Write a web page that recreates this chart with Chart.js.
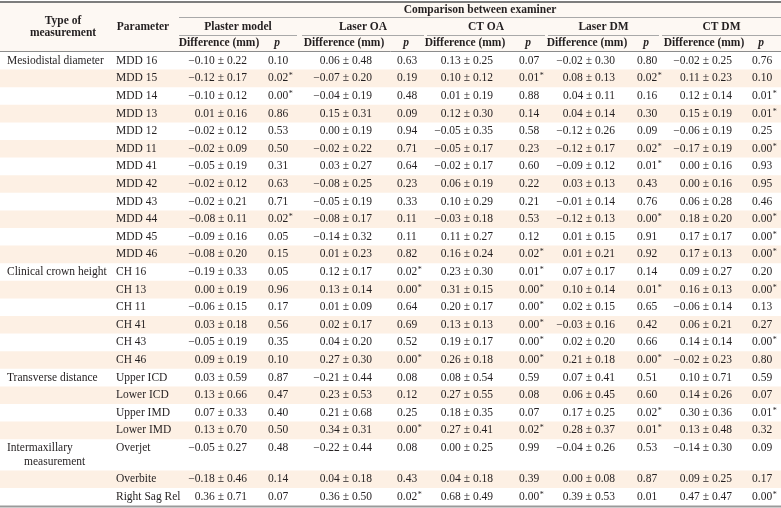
<!DOCTYPE html>
<html>
<head>
<meta charset="utf-8">
<script src="https://cdn.jsdelivr.net/npm/chart.js@4.4.0/dist/chart.umd.min.js"></script>
<style>
  html, body { margin: 0; padding: 0; background: #fff; }
</style>
</head>
<body>
<canvas id="table" width="781" height="508"></canvas>
<script>
const groups = ['Plaster model', 'Laser OA', 'CT OA', 'Laser DM', 'CT DM'];

const measurementTypes = [
  'Mesiodistal diameter', '', '', '', '', '', '', '', '', '', '', '',
  'Clinical crown height', '', '', '', '', '',
  'Transverse distance', '', '', '',
  'Intermaxillary\nmeasurement', '', ''
];

const parameters = [
  'MDD 16', 'MDD 15', 'MDD 14', 'MDD 13', 'MDD 12', 'MDD 11', 'MDD 41', 'MDD 42',
  'MDD 43', 'MDD 44', 'MDD 45', 'MDD 46', 'CH 16', 'CH 13', 'CH 11', 'CH 41',
  'CH 43', 'CH 46', 'Upper ICD', 'Lower ICD', 'Upper IMD', 'Lower IMD',
  'Overjet', 'Overbite', 'Right Sag Rel'
];

const plasterMean = [-0.10, -0.12, -0.10, 0.01, -0.02, -0.02, -0.05, -0.02, -0.02, -0.08, -0.09, -0.08, -0.19, 0.00, -0.06, 0.03, -0.05, 0.09, 0.03, 0.13, 0.07, 0.13, -0.05, -0.18, 0.36];
const plasterSD   = [0.22, 0.17, 0.12, 0.16, 0.12, 0.09, 0.19, 0.12, 0.21, 0.11, 0.16, 0.20, 0.33, 0.19, 0.15, 0.18, 0.19, 0.19, 0.59, 0.66, 0.33, 0.70, 0.27, 0.46, 0.71];
const plasterP    = ['0.10', '0.02*', '0.00*', '0.86', '0.53', '0.50', '0.31', '0.63', '0.71', '0.02*', '0.05', '0.15', '0.05', '0.96', '0.17', '0.56', '0.35', '0.10', '0.87', '0.47', '0.40', '0.50', '0.48', '0.14', '0.07'];

const laserOAMean = [0.06, -0.07, -0.04, 0.15, 0.00, -0.02, 0.03, -0.08, -0.05, -0.08, -0.14, 0.01, 0.12, 0.13, 0.01, 0.02, 0.04, 0.27, -0.21, 0.23, 0.21, 0.34, -0.22, 0.04, 0.36];
const laserOASD   = [0.48, 0.20, 0.19, 0.31, 0.19, 0.22, 0.27, 0.25, 0.19, 0.17, 0.32, 0.23, 0.17, 0.14, 0.09, 0.17, 0.20, 0.30, 0.44, 0.53, 0.68, 0.31, 0.44, 0.18, 0.50];
const laserOAP    = ['0.63', '0.19', '0.48', '0.09', '0.94', '0.71', '0.64', '0.23', '0.33', '0.11', '0.11', '0.82', '0.02*', '0.00*', '0.64', '0.69', '0.52', '0.00*', '0.08', '0.12', '0.25', '0.00*', '0.08', '0.43', '0.02*'];

const ctOAMean = [0.13, 0.10, 0.01, 0.12, -0.05, -0.05, -0.02, 0.06, 0.10, -0.03, 0.11, 0.16, 0.23, 0.31, 0.20, 0.13, 0.19, 0.26, 0.08, 0.27, 0.18, 0.27, 0.00, 0.04, 0.68];
const ctOASD   = [0.25, 0.12, 0.19, 0.30, 0.35, 0.17, 0.17, 0.19, 0.29, 0.18, 0.27, 0.24, 0.30, 0.15, 0.17, 0.13, 0.17, 0.18, 0.54, 0.55, 0.35, 0.41, 0.25, 0.18, 0.49];
const ctOAP    = ['0.07', '0.01*', '0.88', '0.14', '0.58', '0.23', '0.60', '0.22', '0.21', '0.53', '0.12', '0.02*', '0.01*', '0.00*', '0.00*', '0.00*', '0.00*', '0.00*', '0.59', '0.08', '0.07', '0.02*', '0.99', '0.39', '0.00*'];

const laserDMMean = [-0.02, 0.08, 0.04, 0.04, -0.12, -0.12, -0.09, 0.03, -0.01, -0.12, 0.01, 0.01, 0.07, 0.10, 0.02, -0.03, 0.02, 0.21, 0.07, 0.06, 0.17, 0.28, -0.04, 0.00, 0.39];
const laserDMSD   = [0.30, 0.13, 0.11, 0.14, 0.26, 0.17, 0.12, 0.13, 0.14, 0.13, 0.15, 0.21, 0.17, 0.14, 0.15, 0.16, 0.20, 0.18, 0.41, 0.45, 0.25, 0.37, 0.26, 0.08, 0.53];
const laserDMP    = ['0.80', '0.02*', '0.16', '0.30', '0.09', '0.02*', '0.01*', '0.43', '0.76', '0.00*', '0.91', '0.92', '0.14', '0.01*', '0.65', '0.42', '0.66', '0.00*', '0.51', '0.60', '0.02*', '0.01*', '0.53', '0.87', '0.01'];

const ctDMMean = [-0.02, 0.11, 0.12, 0.15, -0.06, -0.17, 0.00, 0.00, 0.06, 0.18, 0.17, 0.17, 0.09, 0.16, -0.06, 0.06, 0.14, -0.02, 0.10, 0.14, 0.30, 0.13, -0.14, 0.09, 0.47];
const ctDMSD   = [0.25, 0.23, 0.14, 0.19, 0.19, 0.19, 0.16, 0.16, 0.28, 0.20, 0.17, 0.13, 0.27, 0.13, 0.14, 0.21, 0.14, 0.23, 0.71, 0.26, 0.36, 0.48, 0.30, 0.25, 0.47];
const ctDMP    = ['0.76', '0.10', '0.01*', '0.01*', '0.25', '0.00*', '0.93', '0.95', '0.46', '0.00*', '0.00*', '0.00*', '0.20', '0.00*', '0.13', '0.27', '0.00*', '0.80', '0.59', '0.07', '0.01*', '0.32', '0.09', '0.17', '0.00*'];

const series = [
  { mean: plasterMean, sd: plasterSD, p: plasterP },
  { mean: laserOAMean, sd: laserOASD, p: laserOAP },
  { mean: ctOAMean, sd: ctOASD, p: ctOAP },
  { mean: laserDMMean, sd: laserDMSD, p: laserDMP },
  { mean: ctDMMean, sd: ctDMSD, p: ctDMP }
];

// layout (in scale units)
const W = 781, H = 508;
const HEADER_BOTTOM = 52;
const ROW_H = 17.6;
const LINE_H = 13.6;
const TYPE_X = 7, TYPE_INDENT = 17, PARAM_X = 116;
const groupSpans = [[179, 297], [302, 424], [427, 545], [548, 659], [662, 781]];
const diffRight = [247, 372, 493, 615, 732];
const pLeft = [268, 397, 519, 637, 752];

const TEXT = '#231f20';
const FONT = '"Liberation Serif", "Times New Roman", serif';

// row tops: rows with a two-line type label are taller
const rowTops = [];
let acc = HEADER_BOTTOM;
parameters.forEach((p, i) => {
  rowTops.push(acc);
  acc += ROW_H + (measurementTypes[i].split('\n').length - 1) * LINE_H;
});

const stripes = parameters
  .map((p, i) => ({ x: [0, W], y: rowTops[i] + ROW_H / 2, i }))
  .filter(d => d.i % 2 === 1);

function fmtDiff(m, s) {
  return (m < 0 ? '\u2212' : '') + Math.abs(m).toFixed(2) + ' \u00b1 ' + s.toFixed(2);
}

const tablePlugin = {
  id: 'tableText',
  beforeDatasetsDraw(chart) {
    const { ctx, scales: { x, y } } = chart;
    ctx.save();
    ctx.fillStyle = '#fdf8f3';
    ctx.fillRect(x.getPixelForValue(0), y.getPixelForValue(2), x.getPixelForValue(W), y.getPixelForValue(HEADER_BOTTOM) - y.getPixelForValue(2));
    ctx.restore();
  },
  afterDatasetsDraw(chart) {
    const { ctx, scales: { x, y } } = chart;
    const px = v => x.getPixelForValue(v);
    const py = v => y.getPixelForValue(v);
    ctx.save();

    const hline = (x0, x1, yy, w, c) => {
      ctx.beginPath();
      ctx.strokeStyle = c;
      ctx.lineWidth = w;
      ctx.moveTo(px(x0), py(yy));
      ctx.lineTo(px(x1), py(yy));
      ctx.stroke();
    };
    hline(0, W, 2, 2, '#7d7d7d');
    hline(groupSpans[0][0], W, 17.5, 1, '#a9a9a9');
    groupSpans.forEach(s => hline(s[0], s[1], 35.5, 1, '#a9a9a9'));
    hline(0, W, HEADER_BOTTOM - 0.5, 1, '#8c8c8c');
    hline(0, W, acc + 1, 2, '#9a9a9a');

    ctx.fillStyle = TEXT;
    ctx.textBaseline = 'middle';

    // header
    ctx.font = 'bold 11.5px ' + FONT;
    ctx.textAlign = 'center';
    ctx.fillText('Type of', px(63), py(21));
    ctx.fillText('measurement', px(63), py(33));
    ctx.fillText('Parameter', px(143), py(27));
    ctx.fillText('Comparison between examiner', px((groupSpans[0][0] + W) / 2), py(10));
    groups.forEach((g, k) => {
      const s = groupSpans[k];
      ctx.font = 'bold 11.5px ' + FONT;
      ctx.fillText(g, px((s[0] + s[1]) / 2), py(27));
      ctx.fillText('Difference (mm)', px(diffRight[k] - 28), py(43.5));
      ctx.font = 'italic bold 11.5px ' + FONT;
      ctx.fillText('p', px(pLeft[k] + 9), py(43.5));
    });

    // body
    ctx.font = '11.5px ' + FONT;
    parameters.forEach((param, i) => {
      const yc = rowTops[i] + ROW_H / 2;
      ctx.textAlign = 'left';
      measurementTypes[i].split('\n').forEach((t, l) => {
        ctx.fillText(t, px(TYPE_X + (l ? TYPE_INDENT : 0)), py(yc + l * LINE_H));
      });
      ctx.fillText(param, px(PARAM_X), py(yc));
      series.forEach((s, k) => {
        ctx.textAlign = 'right';
        ctx.font = '11.5px ' + FONT;
        ctx.fillText(fmtDiff(s.mean[i], s.sd[i]), px(diffRight[k]), py(yc));
        ctx.textAlign = 'left';
        const star = s.p[i].endsWith('*');
        const val = s.p[i].replace('*', '');
        ctx.fillText(val, px(pLeft[k]), py(yc));
        if (star) {
          const wv = ctx.measureText(val).width;
          ctx.font = '8px ' + FONT;
          ctx.fillText('*', px(pLeft[k]) + wv + 0.5, py(yc - 2));
          ctx.font = '11.5px ' + FONT;
        }
      });
    });
    ctx.restore();
  }
};

new Chart(document.getElementById('table'), {
  type: 'bar',
  data: {
    datasets: [{
      data: stripes,
      backgroundColor: '#fdf0e4',
      borderWidth: 0,
      barThickness: ROW_H,
      inflateAmount: 0
    }]
  },
  options: {
    indexAxis: 'y',
    responsive: false,
    animation: false,
    layout: { padding: 0 },
    plugins: { legend: { display: false }, tooltip: { enabled: false } },
    scales: {
      x: { type: 'linear', min: 0, max: W, display: false, offset: false },
      y: { type: 'linear', min: 0, max: H, reverse: true, display: false, offset: false }
    }
  },
  plugins: [tablePlugin]
});
</script>
</body>
</html>
